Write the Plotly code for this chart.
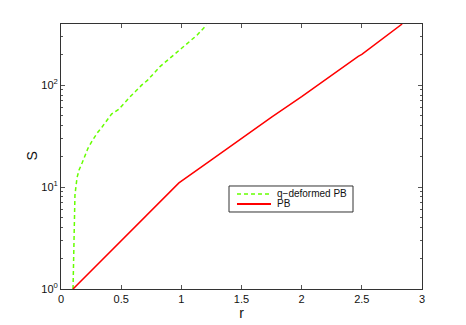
import plotly.graph_objects as go

# Data
pb_r = [0.1, 0.98, 1.25, 1.5, 1.75, 2.0, 2.25, 2.47, 2.5, 2.73, 2.76, 2.835]
pb_s = [1, 11, 18.5, 30, 48.6, 77, 126, 192, 200, 318, 335, 398]

qpb_r = [0.1, 0.108, 0.113, 0.116, 0.133, 0.15, 0.175, 0.2, 0.224, 0.258, 0.3, 0.34,
         0.38, 0.42, 0.48, 0.52, 0.57, 0.62, 0.67, 0.72, 0.82, 1.0, 1.13, 1.21]
qpb_s = [1, 2.5, 5.5, 8.4, 12.3, 14.7, 17.2, 20.5, 24, 28.2, 33.8, 38.7,
         44.5, 52, 58, 66, 76, 87, 100, 112, 151, 229, 309, 390]

series_names = ["q\u2212deformed PB", "PB"]

x_ticks = [0, 0.5, 1, 1.5, 2, 2.5, 3]
x_ticktext = ["0", "0.5", "1", "1.5", "2", "2.5", "3"]
y_ticks = [1, 10, 100]
y_ticktext = ["10<sup>0</sup>", "10<sup>1</sup>", "10<sup>2</sup>"]
y_minor = [2, 3, 4, 5, 6, 7, 8, 9, 20, 30, 40, 50, 60, 70, 80, 90, 200, 300]

FONT = "Liberation Sans, Arial"
GREEN = "#66ff00"
RED = "#ff0000"

fig = go.Figure()
fig.add_trace(go.Scatter(x=qpb_r, y=qpb_s, mode="lines", name=series_names[0],
                         line=dict(color=GREEN, width=1.5, dash="4px,3px")))
fig.add_trace(go.Scatter(x=pb_r, y=pb_s, mode="lines", name=series_names[1],
                         line=dict(color=RED, width=1.5)))

axis_common = dict(showgrid=False, zeroline=False, showline=True, linecolor="#333333",
                   linewidth=1, mirror="ticks", ticks="inside", ticklen=4, automargin=False,
                   tickcolor="#555555", tickfont=dict(family=FONT, size=11, color="#111111"))

# Compact MATLAB-style legend box drawn in paper coordinates
leg_x0, leg_x1, leg_y0, leg_y1 = 0.4654, 0.8089, 0.2906, 0.3887
line_x0, line_x1, text_x = 0.4875, 0.5817, 0.592
row_y = [0.3585, 0.3208]
styles = [dict(color=GREEN, width=1.5, dash="4px,3px"), dict(color=RED, width=2)]

shapes = [dict(type="rect", xref="paper", yref="paper", x0=leg_x0, x1=leg_x1, y0=leg_y0, y1=leg_y1,
               line=dict(color="#333333", width=1), fillcolor="white", layer="above")]
annotations = []
for name, y, st in zip(series_names, row_y, styles):
    shapes.append(dict(type="line", xref="paper", yref="paper", x0=line_x0, x1=line_x1, y0=y, y1=y,
                       line=st, layer="above"))
    annotations.append(dict(xref="paper", yref="paper", x=text_x, y=y, text=name, showarrow=False,
                            xanchor="left", yanchor="middle",
                            font=dict(family=FONT, size=10, color="#111111")))

# Y-axis label placed like MATLAB's
annotations.append(dict(xref="paper", yref="paper", x=-0.083, y=0.5, text="S", showarrow=False,
                        textangle=-90, xanchor="center", yanchor="middle",
                        font=dict(family=FONT, size=14, color="#111111")))

fig.update_layout(
    width=458, height=317,
    margin=dict(l=53, r=44, t=16, b=36),
    paper_bgcolor="white", plot_bgcolor="white",
    showlegend=False,
    shapes=shapes, annotations=annotations,
    xaxis=dict(range=[0, 3], tickvals=x_ticks, ticktext=x_ticktext,
               title=dict(text="r", font=dict(family=FONT, size=14, color="#111111"), standoff=2),
               **axis_common),
    yaxis=dict(type="log", range=[0, 2.6], tickvals=y_ticks, ticktext=y_ticktext,
               minor=dict(ticks="inside", ticklen=2, tickcolor="#555555", tickvals=y_minor),
               **axis_common),
)

fig.write_html("out.html")
